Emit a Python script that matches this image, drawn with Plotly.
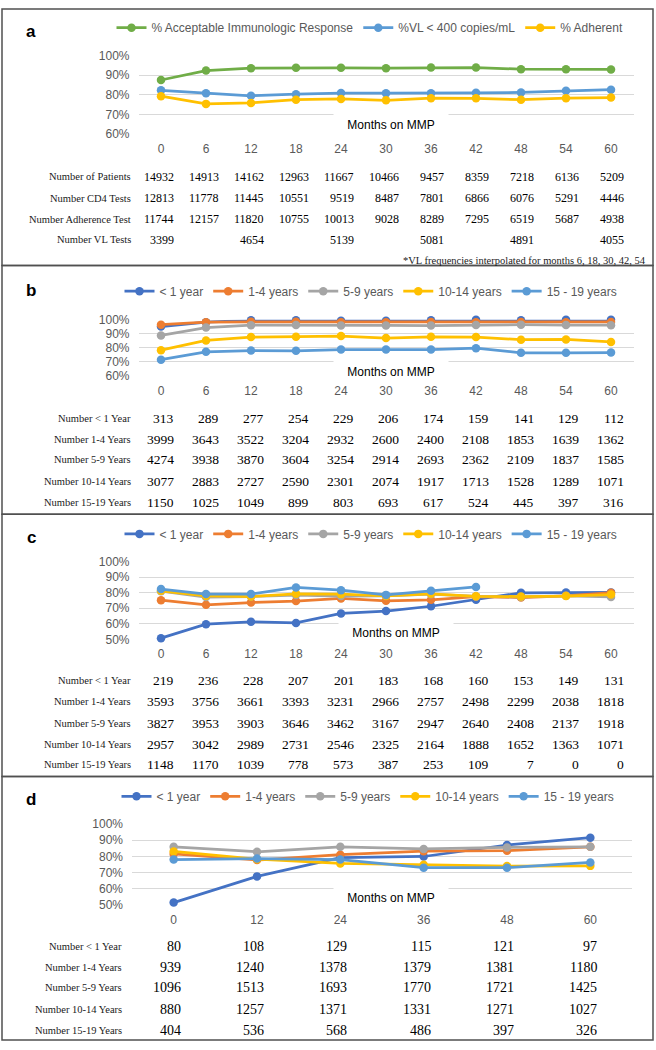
import plotly.graph_objects as go

W, H = 656, 1050


def px(x):
    return x / W


def py(y):
    return 1 - y / H


# ---------------- data ----------------
months = ['0', '6', '12', '18', '24', '30', '36', '42', '48', '54', '60']
months_d = ['0', '12', '24', '36', '48', '60']

# Panel a
a_acceptable = [87.5, 92.3, 93.5, 93.7, 93.7, 93.5, 93.8, 93.8, 93.0, 93.0, 92.9]
a_vl = [82.3, 80.8, 79.5, 80.3, 80.9, 80.8, 80.8, 81.0, 81.2, 82.0, 82.6]
a_adherent = [79.3, 75.4, 75.9, 77.5, 77.9, 77.2, 78.3, 78.2, 77.5, 78.3, 78.6]
a_n_patients = [14932, 14913, 14162, 12963, 11667, 10466, 9457, 8359, 7218, 6136, 5209]
a_n_cd4 = [12813, 11778, 11445, 10551, 9519, 8487, 7801, 6866, 6076, 5291, 4446]
a_n_adherence = [11744, 12157, 11820, 10755, 10013, 9028, 8289, 7295, 6519, 5687, 4938]
a_n_vl = [3399, None, 4654, None, 5139, None, 5081, None, 4891, None, 4055]

# Panel b
b_lt1 = [95.2, 98.3, 99.6, 99.6, 99.4, 99.3, 99.6, 100, 99.6, 100, 100]
b_1_4 = [96.5, 98.3, 98.6, 98.6, 98.2, 98.2, 98.4, 98.3, 98.4, 98.3, 98.5]
b_5_9 = [88.9, 94.5, 96.2, 96.3, 95.9, 96.0, 95.9, 96.3, 96.5, 96.3, 96.2]
b_10_14 = [78.4, 85.3, 87.7, 87.9, 88.4, 87.0, 87.9, 87.7, 85.8, 86.0, 84.2]
b_15_19 = [71.6, 77.2, 78.1, 77.9, 78.8, 78.8, 78.8, 79.8, 76.5, 76.5, 76.7]
b_n_lt1 = [313, 289, 277, 254, 229, 206, 174, 159, 141, 129, 112]
b_n_1_4 = [3999, 3643, 3522, 3204, 2932, 2600, 2400, 2108, 1853, 1639, 1362]
b_n_5_9 = [4274, 3938, 3870, 3604, 3254, 2914, 2693, 2362, 2109, 1837, 1585]
b_n_10_14 = [3077, 2883, 2727, 2590, 2301, 2074, 1917, 1713, 1528, 1289, 1071]
b_n_15_19 = [1150, 1025, 1049, 899, 803, 693, 617, 524, 445, 397, 316]

# Panel c
c_lt1 = [50.8, 59.8, 61.3, 60.6, 66.7, 68.2, 71.3, 75.5, 79.9, 80.1, 80.2]
c_1_4 = [75.2, 72.2, 73.7, 74.6, 76.3, 74.8, 75.4, 77.5, 76.9, 78.0, 80.0]
c_5_9 = [81.0, 77.2, 77.5, 78.5, 77.8, 78.0, 79.0, 77.6, 77.3, 78.0, 77.3]
c_10_14 = [81.2, 77.9, 77.5, 79.3, 79.0, 77.9, 79.3, 77.7, 77.5, 77.8, 78.8]
c_15_19 = [82.3, 79.1, 79.1, 83.4, 81.6, 78.6, 81.2, 83.7, None, None, None]
c_n_lt1 = [219, 236, 228, 207, 201, 183, 168, 160, 153, 149, 131]
c_n_1_4 = [3593, 3756, 3661, 3393, 3231, 2966, 2757, 2498, 2299, 2038, 1818]
c_n_5_9 = [3827, 3953, 3903, 3646, 3462, 3167, 2947, 2640, 2408, 2137, 1918]
c_n_10_14 = [2957, 3042, 2989, 2731, 2546, 2325, 2164, 1888, 1652, 1363, 1071]
c_n_15_19 = [1148, 1170, 1039, 778, 573, 387, 253, 109, 7, 0, 0]

# Panel d
d_lt1 = [51.4, 67.6, 79.2, 79.9, 87.0, 91.5]
d_1_4 = [81.5, 77.7, 81.0, 83.2, 83.5, 85.9]
d_5_9 = [85.9, 82.8, 85.9, 84.6, 85.5, 85.9]
d_10_14 = [83.0, 78.2, 75.6, 74.8, 74.0, 74.1]
d_15_19 = [78.0, 78.6, 78.0, 73.0, 73.0, 76.2]
d_n_lt1 = [80, 108, 129, 115, 121, 97]
d_n_1_4 = [939, 1240, 1378, 1379, 1381, 1180]
d_n_5_9 = [1096, 1513, 1693, 1770, 1721, 1425]
d_n_10_14 = [880, 1257, 1371, 1331, 1271, 1027]
d_n_15_19 = [404, 536, 568, 486, 397, 326]

a_names = ['% Acceptable Immunologic Response', '%VL < 400 copies/mL', '% Adherent']
a_colors = ['#70AD47', '#5B9BD5', '#FFC000']
age_names = ['< 1 year', '1-4 years', '5-9 years', '10-14 years', '15 - 19 years']
age_colors = ['#4472C4', '#ED7D31', '#A5A5A5', '#FFC000', '#5B9BD5']
a_row_labels = ['Number of Patients', 'Number CD4 Tests', 'Number Adherence Test', 'Number VL Tests']
age_row_labels = ['Number < 1 Year', 'Number 1-4 Years', 'Number 5-9 Years',
                  'Number 10-14 Years', 'Number 15-19 Years']
footnote = '*VL frequencies interpolated for months 6, 18, 30, 42, 54'

# ---------------- layout geometry (pixels) ----------------
panels = [
    dict(label='a', cats=months, series=[a_acceptable, a_vl, a_adherent], names=a_names,
         colors=a_colors, rows=[a_n_patients, a_n_cd4, a_n_adherence, a_n_vl],
         row_labels=a_row_labels, xdom=(138.5, 633.5), ytop=49, ybot=129, yr=(60, 100),
         frame=(2, 262), lab_y=25, leg_y=21, leg_x=370, mmp=(391, 120),
         row_y=[172, 194, 215, 236], lab_right=133, val_shift=15, val_size=12),
    dict(label='b', cats=months, series=[b_lt1, b_1_4, b_5_9, b_10_14, b_15_19], names=age_names,
         colors=age_colors, rows=[b_n_lt1, b_n_1_4, b_n_5_9, b_n_10_14, b_n_15_19],
         row_labels=age_row_labels, xdom=(138.5, 633.5), ytop=317, ybot=374, yr=(60, 100),
         frame=(262, 514), lab_y=287, leg_y=288, leg_x=371, mmp=(391, 370),
         row_y=[417, 438, 459, 481, 502], lab_right=133, val_shift=15, val_size=13.5),
    dict(label='c', cats=months, series=[c_lt1, c_1_4, c_5_9, c_10_14, c_15_19], names=age_names,
         colors=age_colors, rows=[c_n_lt1, c_n_1_4, c_n_5_9, c_n_10_14, c_n_15_19],
         row_labels=age_row_labels, xdom=(138.5, 633.5), ytop=562, ybot=641, yr=(50, 100),
         frame=(514, 780), lab_y=538, leg_y=534, leg_x=371, mmp=(396, 634),
         row_y=[683, 704, 726, 747, 768], lab_right=133, val_shift=15, val_size=13.5),
    dict(label='d', cats=months_d, series=[d_lt1, d_1_4, d_5_9, d_10_14, d_15_19], names=age_names,
         colors=age_colors, rows=[d_n_lt1, d_n_1_4, d_n_5_9, d_n_10_14, d_n_15_19],
         row_labels=age_row_labels, xdom=(132, 632), ytop=828, ybot=910, yr=(50, 100),
         frame=(780, 1047), lab_y=803, leg_y=800, leg_x=368, mmp=(391, 903),
         row_y=[952, 973, 994, 1016, 1037], lab_right=124, val_shift=9, val_size=14),
]

sans = 'Liberation Sans, Arial, sans-serif'
serif = 'Liberation Serif, Times New Roman, serif'
tick_font = dict(family=sans, size=12, color='#595959')

fig = go.Figure()
layout = dict(width=W, height=H, margin=dict(l=0, r=0, t=0, b=0),
              paper_bgcolor='white', plot_bgcolor='white', showlegend=True)
annotations = []
shapes = []

for i, p in enumerate(panels):
    n = i + 1
    sfx = '' if n == 1 else str(n)
    xa, ya = 'x' + sfx, 'y' + sfx
    leg = 'legend' + sfx
    ncat = len(p['cats'])
    for vals, name, col in zip(p['series'], p['names'], p['colors']):
        fig.add_trace(go.Scatter(
            x=p['cats'], y=vals, name=name, mode='lines+markers',
            line=dict(color=col, width=2.75), marker=dict(color=col, size=8.5),
            xaxis=xa, yaxis=ya, legend=leg, cliponaxis=False, hoverinfo='skip'))
    lo, hi = p['yr']
    pad = 0.02
    layout['xaxis' + sfx] = dict(
        type='category', categoryorder='array', categoryarray=p['cats'],
        range=[-0.5, ncat - 0.5], autorange=False,
        domain=[px(p['xdom'][0]), px(p['xdom'][1])], anchor=ya,
        showgrid=False, showline=False, zeroline=False, ticks='', tickangle=0,
        tickfont=tick_font, ticklabelstandoff=6, fixedrange=True)
    layout['yaxis' + sfx] = dict(
        domain=[py(p['ybot']), py(p['ytop'])], anchor=xa, range=[lo - pad, hi + pad],
        autorange=False, tickmode='linear', tick0=lo, dtick=10, ticksuffix='%',
        showgrid=True, gridcolor='#D9D9D9', gridwidth=1, zeroline=False,
        showline=False, ticks='', tickfont=tick_font, ticklabelstandoff=8, fixedrange=True)
    layout[leg] = dict(
        orientation='h', x=px(p['leg_x']), xanchor='center', y=py(p['leg_y']), yanchor='middle',
        xref='paper', yref='paper', bgcolor='rgba(0,0,0,0)', itemwidth=30,
        font=dict(family=sans, size=12, color='#595959'),
        tracegroupgap=0, itemclick=False, itemdoubleclick=False)
    # panel letter
    annotations.append(dict(text='<b>%s</b>' % p['label'], x=px(31), y=py(p['lab_y']),
                            xref='paper', yref='paper', xanchor='center', yanchor='middle',
                            showarrow=False,
                            font=dict(family=sans, size=17, color='black')))
    # axis title with white box
    annotations.append(dict(text='Months on MMP', x=px(p['mmp'][0]), y=py(p['mmp'][1]),
                            xref='paper', yref='paper', xanchor='center', yanchor='middle',
                            showarrow=False, bgcolor='white', width=114, height=26, borderpad=0,
                            font=dict(family=sans, size=12, color='black')))
    # table rows
    for rlab, rvals, ry in zip(p['row_labels'], p['rows'], p['row_y']):
        annotations.append(dict(text=rlab.replace('<', '&lt;'), x=px(p['lab_right']), y=py(ry),
                                xref='paper', yref='paper', xanchor='right', yanchor='middle',
                                align='right', showarrow=False,
                                font=dict(family=serif, size=10.5, color='#1a1a1a')))
        for j, v in enumerate(rvals):
            if v is None:
                continue
            annotations.append(dict(text=str(v), x=j, y=py(ry), xref=xa, yref='paper',
                                    xanchor='right', yanchor='middle', align='right',
                                    xshift=p['val_shift'], showarrow=False,
                                    font=dict(family=serif, size=p['val_size'], color='black')))
    # frame
    shapes.append(dict(type='rect', xref='paper', yref='paper', x0=px(2), x1=px(653),
                       y0=py(p['frame'][1]), y1=py(p['frame'][0]),
                       line=dict(color='#505050', width=1.5), layer='below'))

annotations.append(dict(text=footnote, x=px(648), y=py(257), xref='paper', yref='paper',
                        xanchor='right', yanchor='middle', align='right', showarrow=False,
                        font=dict(family=serif, size=10.5, color='#1a1a1a')))

layout['annotations'] = annotations
layout['shapes'] = shapes
fig.update_layout(**layout)
fig.write_html('out.html', config={'displayModeBar': False, 'staticPlot': True},
               post_script="document.body.style.margin='0';document.body.style.overflow='hidden';")
